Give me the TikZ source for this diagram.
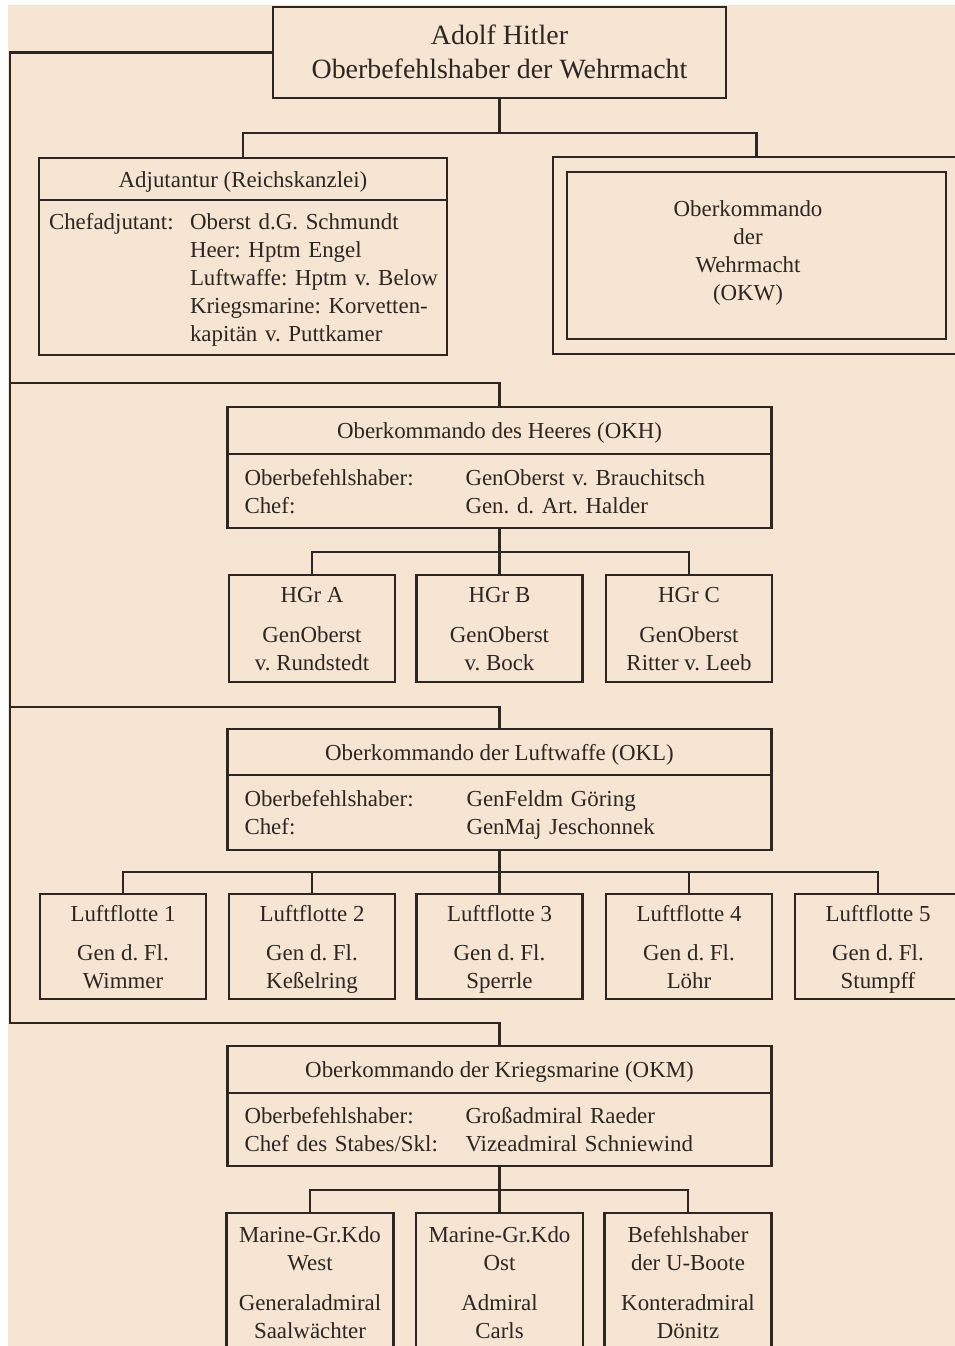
\documentclass[tikz,border=0pt]{standalone}
\usepackage{fontspec}
\setmainfont{Liberation Serif}
\usepackage{tikz}
\usetikzlibrary{positioning}

\definecolor{papel}{RGB}{245,229,210}
\definecolor{tinta}{RGB}{45,38,34}

\frenchspacing
\newcommand{\textocuerpo}{\fontsize{22.9}{28}\selectfont}
\newcommand{\textotitulo}{\fontsize{27.9}{34}\selectfont}
% puntales algo mas bajos que \strut, para centrar las mayusculas
\newcommand{\puntal}{\rule[-6pt]{0pt}{28pt}}
\newcommand{\puntaltitulo}{\rule[-7.8pt]{0pt}{34pt}}
\newcommand{\bajar}[1]{\raisebox{-2.5pt}[\height][\depth]{#1}}

\tikzset{
  caja/.style={draw=tinta, line width=2.2pt, inner sep=0pt, outer sep=0pt,
    align=center, text=tinta, font=\textocuerpo},
  cabecera/.style={caja, minimum width=544, minimum height=47},
  cuerpo/.style={caja, align=left, inner xsep=17pt, text width=510pt, minimum height=74},
  mando/.style={caja, minimum width=166, minimum height=105},
  linea/.style={draw=tinta, line width=2.2pt},
}

\begin{document}
\begin{tikzpicture}[x=1pt, y=-1pt]
        % Hoja: margen blanco arriba e izquierda, papel crema
        \useasboundingbox (0,0) rectangle (955,1346);
        \clip (0,0) rectangle (955,1346);
        \fill[white] (0,0) rectangle (955,1346);
        \fill[papel] (8,5) rectangle (955,1346);

        % Jefe supremo
        \node[caja, font=\textotitulo, minimum width=453, minimum height=91] (hitler) at (499.5,52.5)
            {\puntaltitulo Adolf Hitler\\Oberbefehlshaber der Wehrmacht\puntaltitulo};

        % Adjutantur (cabecera + cuerpo de dos columnas)
        \node[cabecera, minimum width=408, minimum height=42] (adjkopf) at (243,179) {\puntal Adjutantur (Reichskanzlei)};
        \node[cuerpo, below=0pt of adjkopf, inner xsep=10pt, text width=388pt, minimum height=155] (adj)
            {\bajar{\begin{tabular}{@{}p{141pt}@{}l@{}}
             Chefadjutant: & Oberst d.G. Schmundt\\
                           & Heer: Hptm Engel\\
                           & Luftwaffe: Hptm v. Below\\
                           & Kriegsmarine: Korvetten-\\
                           & kapitän v. Puttkamer
             \end{tabular}}};

        % OKW: marco doble
        \node[caja, minimum width=407, minimum height=197] (okwrahmen) at (756.5,255.5) {};
        \node[caja, minimum width=379, minimum height=167] (okw) at (756.5,255.5) {};
        \node[text=tinta, font=\textocuerpo, align=center] (okwtext) at (748,250)
            {\puntal Oberkommando\\der\\Wehrmacht\\(OKW)\puntal};

        % Lineas bajo el jefe supremo
        \draw[linea] (hitler.south) -- ++(0,35);
        \draw[linea] (adjkopf.north) -- ++(0,-25) -| (okwrahmen.north);

        % OKH
        \node[cabecera] (okhkopf) at (499.5,430.5) {\puntal Oberkommando des Heeres (OKH)};
        \node[cuerpo, below=0pt of okhkopf] (okh)
            {\bajar{\begin{tabular}{@{}p{221pt}@{}l@{}}
             Oberbefehlshaber: & GenOberst v. Brauchitsch\\
             Chef:             & Gen. d. Art. Halder
             \end{tabular}}};

        % Grupos de ejercitos
        \foreach \g/\cx/\wer in {A/312/v. Rundstedt, B/499.5/v. Bock, C/689/Ritter v. Leeb}
            \node[mando, minimum height=107] (hgr\g) at (\cx,628.5) {\puntal HGr \g\\[12pt]GenOberst\\\wer\puntal};
        \draw[linea] (okh.south) -- (hgrB.north);
        \draw[linea] (hgrA.north) -- ++(0,-23) -| (hgrC.north);

        % OKL
        \node[cabecera, minimum height=46] (oklkopf) at (499.5,752) {\puntal Oberkommando der Luftwaffe (OKL)};
        \node[cuerpo, below=0pt of oklkopf, minimum height=75] (okl)
            {\bajar{\begin{tabular}{@{}p{222pt}@{}l@{}}
             Oberbefehlshaber: & GenFeldm Göring\\
             Chef:             & GenMaj Jeschonnek
             \end{tabular}}};

        % Luftflotten (la quinta sale por el borde derecho)
        \foreach \n/\cx/\wer in {1/123/Wimmer, 2/312/Keßelring, 3/499.5/Sperrle, 4/689/Löhr, 5/878/Stumpff}
            \node[mando] (lf\n) at (\cx,946.5) {\puntal Luftflotte \n\\[11pt]Gen d. Fl.\\\wer\puntal};
        \draw[linea] (okl.south) -- (lf3.north);
        \draw[linea] (lf1.north) -- ++(0,-22) -| (lf5.north);
        \foreach \n in {2,4}
            \draw[linea] (lf\n.north) -- ++(0,-22);

        % OKM
        \node[cabecera] (okmkopf) at (499.5,1069.5) {\puntal Oberkommando der Kriegsmarine (OKM)};
        \node[cuerpo, below=0pt of okmkopf, minimum height=73] (okm)
            {\bajar{\begin{tabular}{@{}p{221pt}@{}l@{}}
             Oberbefehlshaber:     & Großadmiral Raeder\\
             Chef des Stabes/Skl:  & Vizeadmiral Schniewind
             \end{tabular}}};

        % Mandos navales (cortados por el borde inferior)
        \node[mando, minimum width=167, minimum height=138] (mgwest) at (310,1282)
            {\puntal Marine-Gr.Kdo\\West\\[12pt]Generaladmiral\\Saalwächter\puntal};
        \node[mando, minimum width=167, minimum height=138] (mgost) at (499.5,1282)
            {\puntal Marine-Gr.Kdo\\Ost\\[12pt]Admiral\\Carls\puntal};
        \node[mando, minimum width=167, minimum height=138] (bdu) at (688,1282)
            {\puntal Befehlshaber\\der U-Boote\\[12pt]Konteradmiral\\Dönitz\puntal};
        \draw[linea] (okm.south) -- (mgost.north);
        \draw[linea] (mgwest.north) -- ++(0,-23) -| (bdu.north);

        % Linea lateral izquierda que une los tres Oberkommandos
        \coordinate (bus0) at (10,52.5);
        \coordinate (bus1) at (10,383);
        \coordinate (bus2) at (10,707);
        \coordinate (bus3) at (10,1023);
        \draw[linea] (hitler.west) -- (bus0) -- (bus3) -| (okmkopf.north);
        \draw[linea] (bus1) -| (okhkopf.north);
        \draw[linea] (bus2) -| (oklkopf.north);
    \end{tikzpicture}
\end{document}
